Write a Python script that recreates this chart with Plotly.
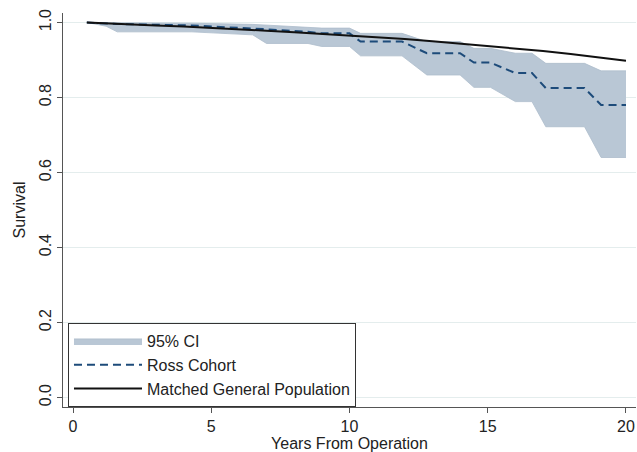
import plotly.graph_objects as go

# ---- data ----
years = [0.5, 1.2, 1.6, 4.3, 6.5, 7.0, 8.5, 9.0, 10.0, 10.4, 11.9, 12.8, 14.0,
         14.5, 15.1, 16.0, 16.6, 17.1, 18.5, 19.1, 20.0]
ross = [1.0, 0.998, 0.996, 0.992, 0.985, 0.982, 0.975, 0.971, 0.971, 0.949, 0.949,
        0.918, 0.918, 0.893, 0.893, 0.865, 0.865, 0.825, 0.825, 0.78, 0.78]
ci_upper = [1.0, 1.0, 1.0, 0.998, 0.995, 0.993, 0.988, 0.985, 0.985, 0.971, 0.971,
            0.949, 0.949, 0.931, 0.931, 0.918, 0.918, 0.891, 0.891, 0.871, 0.871]
ci_lower = [1.0, 0.99, 0.975, 0.975, 0.967, 0.944, 0.944, 0.936, 0.936, 0.911, 0.911,
            0.86, 0.86, 0.827, 0.827, 0.789, 0.789, 0.722, 0.722, 0.64, 0.64]

pop_years = [0.5, 1, 2, 3, 4, 5, 6, 7, 8, 9, 10, 11, 12, 13, 14, 15, 16, 17, 18, 19, 20]
pop_surv = [1.0, 0.998, 0.995, 0.992, 0.989, 0.986, 0.982, 0.978, 0.974, 0.970, 0.966,
            0.961, 0.956, 0.950, 0.944, 0.938, 0.931, 0.924, 0.916, 0.907, 0.898]

x_ticks = [0, 5, 10, 15, 20]
y_ticks = [0.0, 0.2, 0.4, 0.6, 0.8, 1.0]

FONT = "Liberation Sans, Arial, sans-serif"
band = "#b9c7d5"

fig = go.Figure()
fig.add_trace(go.Scatter(x=years, y=ci_lower, mode="lines", line=dict(color="#adbccc", width=0.8),
                         showlegend=False, hoverinfo="skip"))
fig.add_trace(go.Scatter(x=years, y=ci_upper, mode="lines", fill="tonexty", fillcolor=band,
                         line=dict(color="#adbccc", width=0.8), name="95% CI"))
fig.add_trace(go.Scatter(x=years, y=ross, mode="lines", name="Ross Cohort",
                         line=dict(color="#1d4b7a", width=2, dash="8px,5px")))
fig.add_trace(go.Scatter(x=pop_years, y=pop_surv, mode="lines", name="Matched General Population",
                         line=dict(color="#111111", width=2)))

fig.update_layout(
    width=637, height=452,
    margin=dict(l=63, r=1, t=13, b=45),
    paper_bgcolor="white", plot_bgcolor="white",
    font=dict(family=FONT, size=16, color="#222222"),
    legend=dict(x=0.0087, y=0.2132, xanchor="left", yanchor="top", traceorder="normal",
                bordercolor="#333333", borderwidth=1, bgcolor="white",
                font=dict(size=16, family=FONT, color="#222222"),
                itemwidth=68),
    xaxis=dict(range=[-0.362, 20.362], tickvals=x_ticks, showgrid=False, zeroline=False,
               automargin=False,
               showline=True, linecolor="#555555", linewidth=1, ticks="outside",
               ticklen=5, tickcolor="#555555", tickfont=dict(size=16),
               title=dict(text="Years From Operation", font=dict(size=16), standoff=1)),
    yaxis=dict(range=[-0.0253, 1.0253], tickvals=y_ticks, tickformat=".1f", tickangle=-90,
               automargin=False,
               showgrid=True, gridcolor="#e4eded", gridwidth=1, zeroline=False,
               showline=True, linecolor="#555555", linewidth=1, ticks="outside",
               ticklen=5, tickcolor="#555555", tickfont=dict(size=16),
               title=dict(text="Survival", font=dict(size=16), standoff=6)),
)

fig.write_html("out.html", post_script="document.body.style.margin='0';",
               config={"displayModeBar": False})
